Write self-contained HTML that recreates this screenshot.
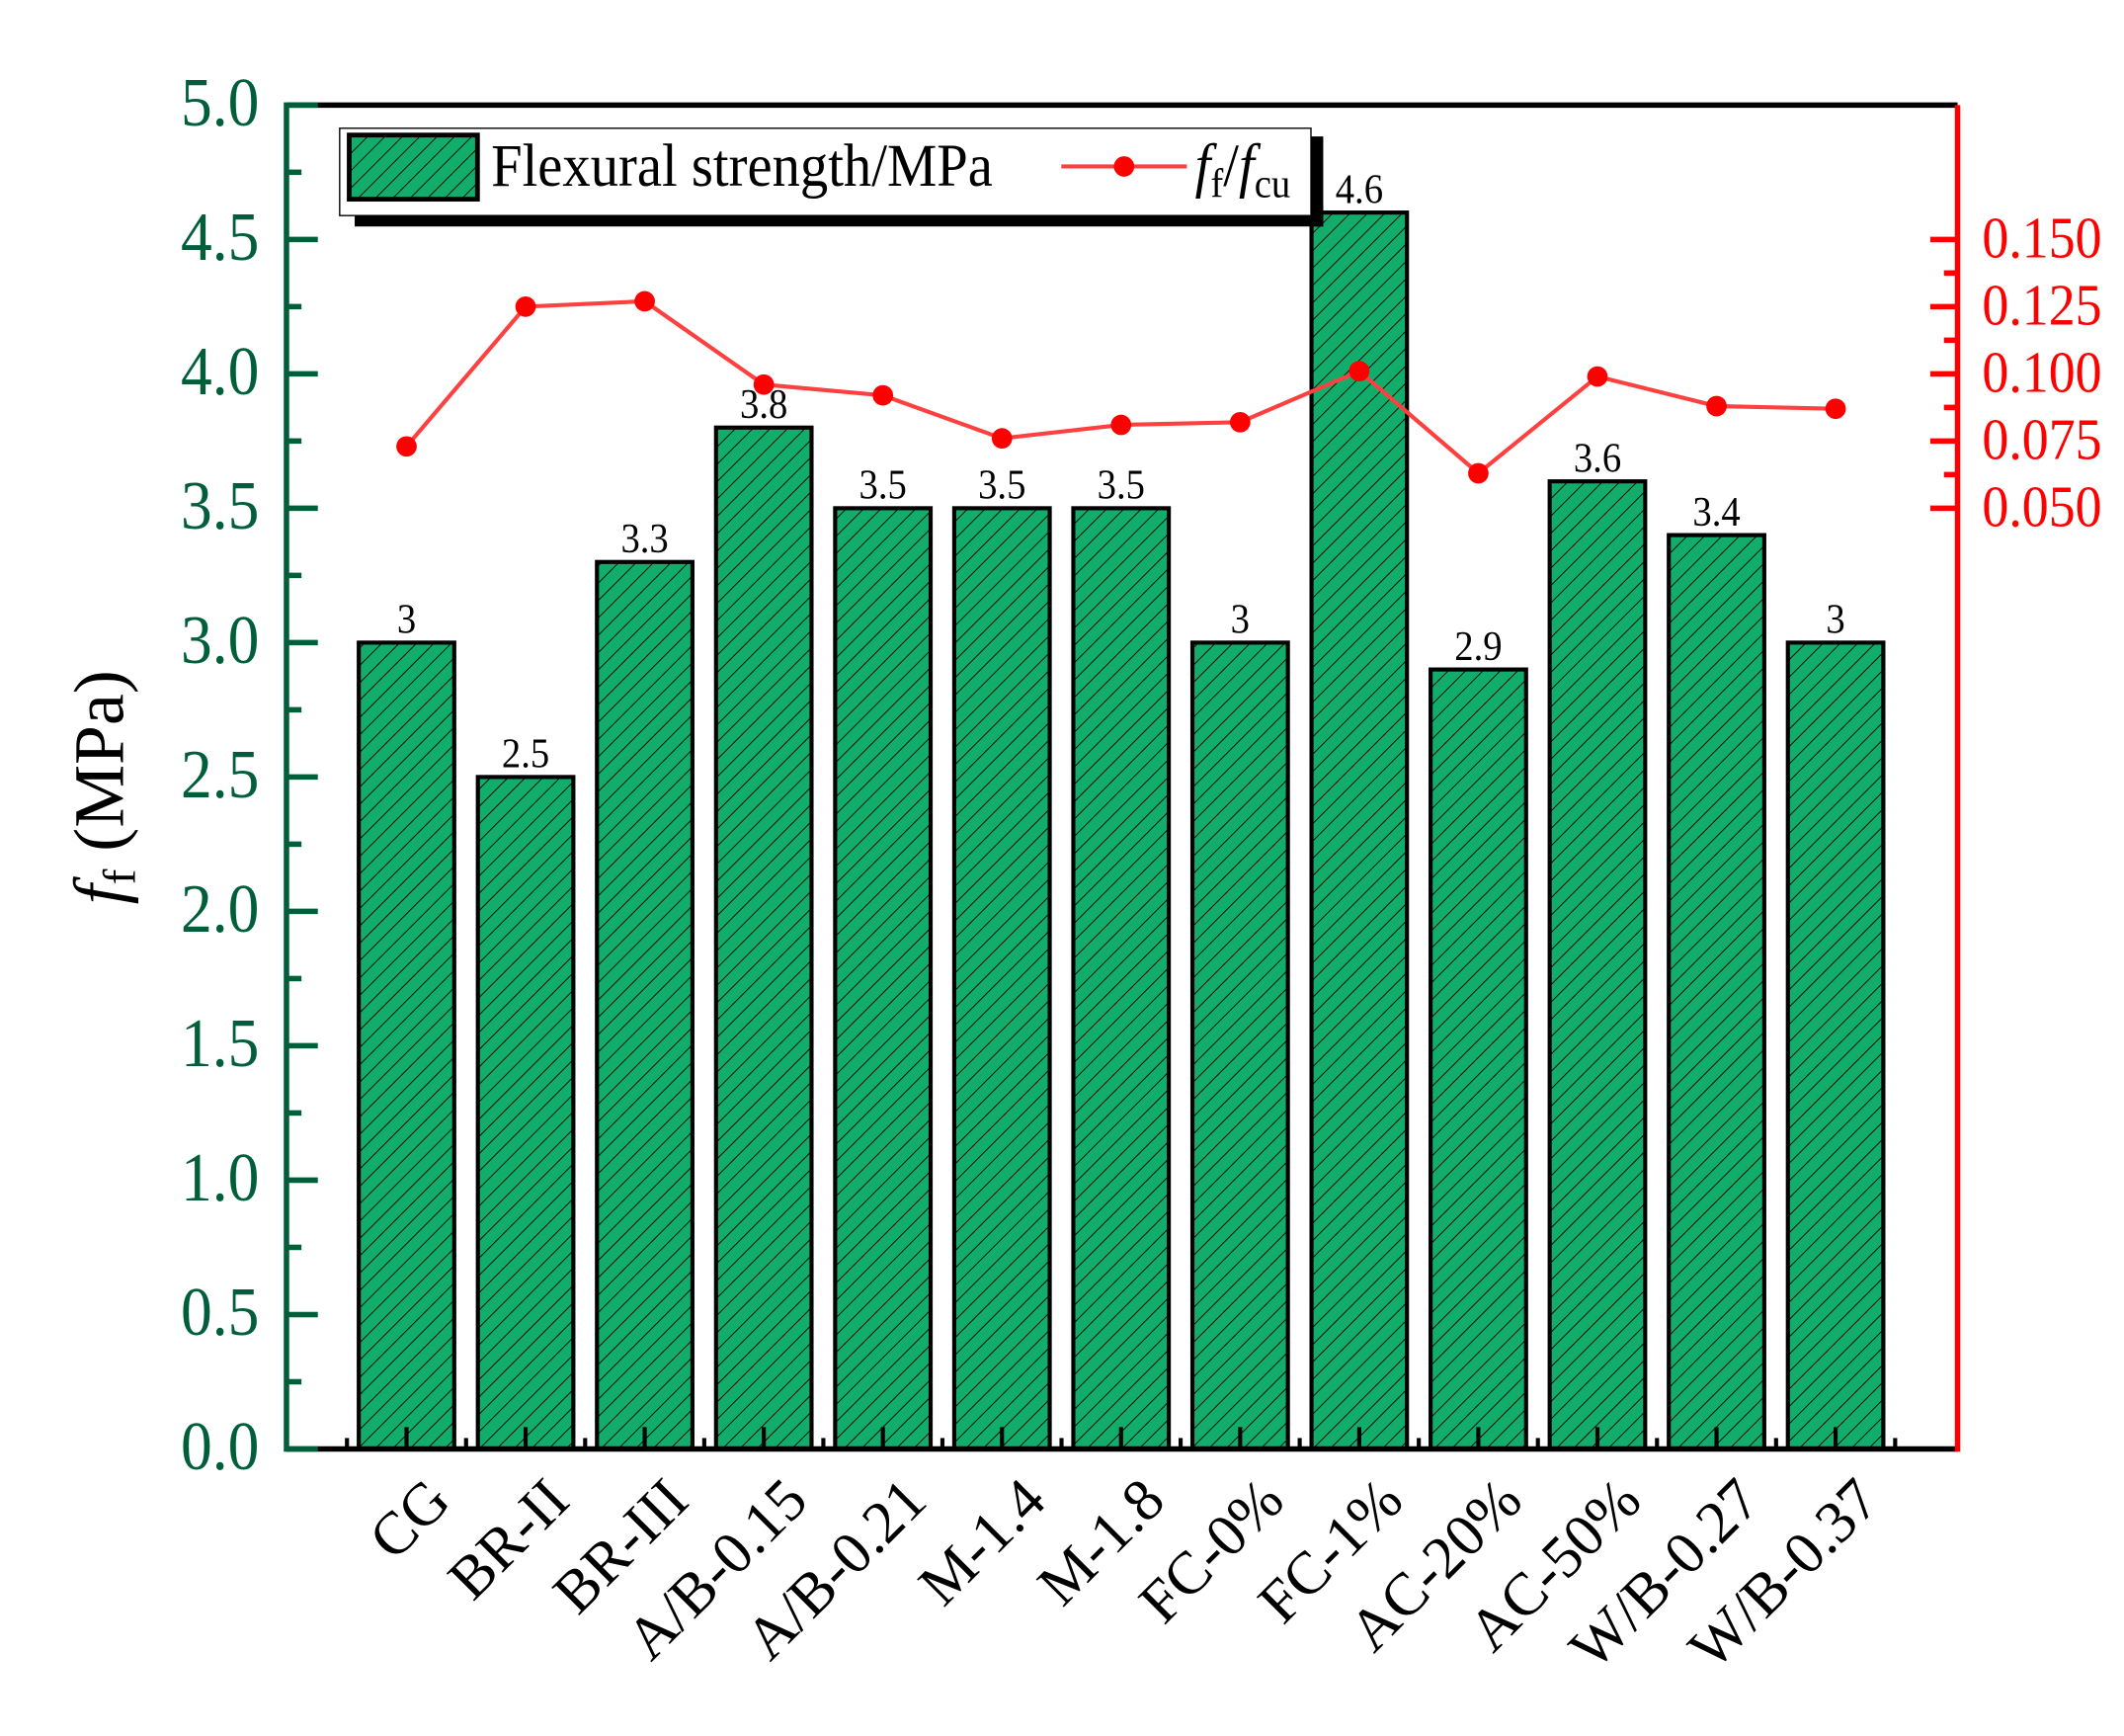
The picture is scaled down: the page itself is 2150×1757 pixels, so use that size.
<!DOCTYPE html>
<html><head><meta charset="utf-8"><style>
html,body{margin:0;padding:0;background:#fff;}
svg{display:block;font-family:"Liberation Serif",serif;}
</style></head><body>
<svg id="chart" width="2150" height="1757" viewBox="0 0 1557 1272.4" preserveAspectRatio="none" xmlns="http://www.w3.org/2000/svg">
<defs>
<pattern id="hatch" patternUnits="userSpaceOnUse" width="9" height="9" patternTransform="rotate(45)">
<rect width="9" height="9" fill="#12ad6b"/>
<line x1="0" y1="0" x2="0" y2="9" stroke="#000" stroke-width="1.3"/>
</pattern>
</defs>
<g id="plot"></g>
</svg>
<script>
const categories = ["CG","BR-II","BR-III","A/B-0.15","A/B-0.21","M-1.4","M-1.8","FC-0%","FC-1%","AC-20%","AC-50%","W/B-0.27","W/B-0.37"];
const strengthValues = [3,2.5,3.3,3.8,3.5,3.5,3.5,3,4.6,2.9,3.6,3.4,3];
const strengthLabels = ["3","2.5","3.3","3.8","3.5","3.5","3.5","3","4.6","2.9","3.6","3.4","3"];
const ratioValues = [0.073,0.125,0.127,0.096,0.092,0.076,0.081,0.082,0.101,0.063,0.099,0.088,0.087];
const leftTicks = ["0.0","0.5","1.0","1.5","2.0","2.5","3.0","3.5","4.0","4.5","5.0"];
const rightTicks = ["0.050","0.075","0.100","0.125","0.150"];

const NS="http://www.w3.org/2000/svg";
const g=document.getElementById('plot');
const L=210,R=1435,T=77,B=1062;
const yL=v=>B-(v/5)*(B-T);
const yR=v=>B-((v+0.3)/0.5)*(B-T);
const step=87.3, x0=298;
const xC=i=>x0+i*step;
function el(tag,attrs,parent){const e=document.createElementNS(NS,tag);for(const k in attrs)e.setAttribute(k,attrs[k]);(parent||g).appendChild(e);return e;}

// bars
strengthValues.forEach((v,i)=>{
  const b=el('rect',{x:xC(i)-35,y:yL(v),width:70,height:B-yL(v),fill:'url(#hatch)',stroke:'#000','stroke-width':3});
  
  
  const t=el('text',{x:0,y:0,'text-anchor':'middle','font-size':28,fill:'#000',transform:`translate(${xC(i)},${yL(v)-7}) scale(1,1.1)`});
  t.textContent=strengthLabels[i];
  
  
});

// axes frame
el('line',{x1:L,y1:T,x2:R,y2:T,stroke:'#000','stroke-width':4});
el('line',{x1:L,y1:B,x2:R,y2:B,stroke:'#000','stroke-width':4});
const la=el('line',{x1:L,y1:T-2,x2:L,y2:B+2,stroke:'#005f3a','stroke-width':4});


const ra=el('line',{x1:R,y1:T,x2:R,y2:B+2,stroke:'#ff0000','stroke-width':4});



// left ticks
leftTicks.forEach((s,i)=>{
  const v=parseFloat(s);
  el('line',{x1:L,y1:yL(v),x2:L+23,y2:yL(v),stroke:'#005f3a','stroke-width':4});
  if(i<leftTicks.length-1) el('line',{x1:L,y1:yL(v+0.25),x2:L+11,y2:yL(v+0.25),stroke:'#005f3a','stroke-width':4});
  const t=el('text',{x:0,y:0,'text-anchor':'end','font-size':46,fill:'#005f3a',transform:`translate(${L-20},${yL(v)+15}) scale(1,1.1)`});
  t.textContent=s;
  
  
});
// right ticks
rightTicks.forEach((s,i)=>{
  const v=parseFloat(s);
  el('line',{x1:R,y1:yR(v),x2:R-20,y2:yR(v),stroke:'#ff0000','stroke-width':4});
  if(i<rightTicks.length-1) el('line',{x1:R,y1:yR(v+0.0125),x2:R-10,y2:yR(v+0.0125),stroke:'#ff0000','stroke-width':4});
  const t=el('text',{x:0,y:0,'font-size':39,fill:'#ff0000',transform:`translate(${R+18},${yR(v)+13}) scale(1,1.1)`});
  t.textContent=s;
  
  
});
// bottom ticks & labels
categories.forEach((c,i)=>{
  el('line',{x1:xC(i),y1:B,x2:xC(i),y2:B-16,stroke:'#000','stroke-width':3});
  el('line',{x1:xC(i)-step/2,y1:B,x2:xC(i)-step/2,y2:B-8,stroke:'#000','stroke-width':3});
  const t=el('text',{x:0,y:0,'text-anchor':'end','font-size':44,fill:'#000',transform:`translate(${xC(i)+34},${1102}) rotate(-45)`});
  t.textContent=c;
  
  
});
el('line',{x1:xC(12)+step/2,y1:B,x2:xC(12)+step/2,y2:B-8,stroke:'#000','stroke-width':3});

// ratio line
const pts=ratioValues.map((v,i)=>xC(i)+','+yR(v)).join(' ');
const pl=el('polyline',{points:pts,fill:'none',stroke:'#ff4040','stroke-width':3});


ratioValues.forEach((v,i)=>{
  const c=el('circle',{cx:xC(i),cy:yR(v),r:7.5,fill:'#ff0000'});
  
  
});

// legend
const lg=el('g',{});


el('rect',{x:260,y:150,width:710,height:16,fill:'#000'},lg);
el('rect',{x:960,y:100,width:10,height:66,fill:'#000'},lg);
el('rect',{x:249,y:94,width:712,height:64,fill:'#fff',stroke:'#000','stroke-width':1},lg);
el('rect',{x:256,y:99,width:94,height:47,fill:'url(#hatch)',stroke:'#000','stroke-width':3.5},lg);
const lt=el('text',{x:0,y:0,'font-size':41,fill:'#000',transform:'translate(360,136) scale(1,1.08)'},lg);
lt.textContent='Flexural strength/MPa';
el('line',{x1:778,y1:122,x2:870,y2:122,stroke:'#ff4040','stroke-width':3},lg);
el('circle',{cx:824,cy:122,r:7.5,fill:'#ff0000'},lg);
const lt2=el('text',{x:0,y:0,'font-size':41,fill:'#000',transform:'translate(876,136) scale(1,1.08)'},lg);
lt2.innerHTML='<tspan font-style="italic">f</tspan><tspan font-size="28" dy="8">f</tspan><tspan dy="-8">/</tspan><tspan font-style="italic">f</tspan><tspan font-size="28" dy="8">cu</tspan>';

// y title
const yt=el('text',{x:0,y:0,'text-anchor':'middle','font-size':52,fill:'#000',transform:'translate(90,577) rotate(-90)'});
yt.innerHTML='<tspan font-style="italic">f</tspan><tspan font-size="34" dy="9">f</tspan><tspan dy="-9"> (MPa)</tspan>';


</script>
</body></html>
